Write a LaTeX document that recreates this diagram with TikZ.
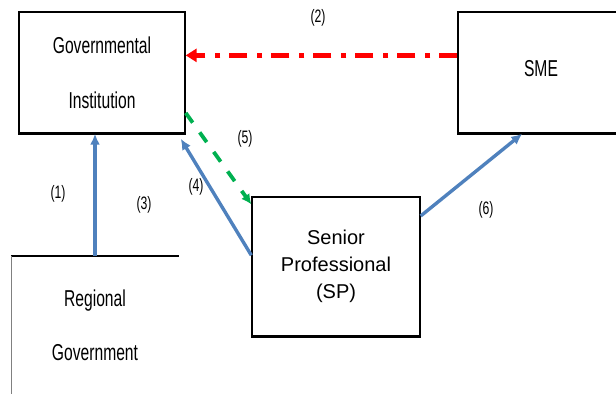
\documentclass[tikz,border=0pt]{standalone}
\usepackage{fontspec}
\setmainfont{Liberation Sans}
\newfontfamily\narrowfont[FakeStretch=0.68]{Liberation Sans}
\usetikzlibrary{arrows.meta,calc}
\definecolor{FlowBlue}{HTML}{4F81BD}
\definecolor{AlertRed}{HTML}{FF0000}
\definecolor{LinkGreen}{HTML}{00B050}

\begin{document}
\begin{tikzpicture}[x=1pt, y=-1pt,
  box/.style={draw=black, line width=1.4pt, inner sep=0pt, align=center},
  narrow/.style={font=\narrowfont\fontsize{23}{23}\selectfont},
  tag/.style={font=\narrowfont\fontsize{18}{18}\selectfont, inner sep=0pt},
  flow/.style={-{Latex[length=11pt,width=10pt]}, FlowBlue, line width=3.4pt}]
\useasboundingbox (0,0) rectangle (616,394);
\begin{scope}
\clip (0,0) rectangle (616,394);
\node[box, narrow, minimum width=166, minimum height=121] (gi) at (102,72.5) {Governmental\\[32pt]Institution};
\node[box, narrow, minimum width=166, minimum height=121] (sme) at (541,72.5) {\raisebox{9pt}{SME}};
\node[narrow, inner sep=0pt, align=center, minimum width=168, minimum height=138] (rg) at (95,325) {Regional\\[31pt]Government};
\node[box, font=\fontsize{20}{27}\selectfont, minimum width=168, minimum height=139] (sp) at (336,266.5) {Senior\\Professional\\(SP)};
% heavier lower edges
\draw[line width=2.4pt] (gi.south west) -- (gi.south east);
\draw[line width=2.4pt] (sme.south west) -- (sme.south east);
\draw[line width=2.4pt] (sp.south west) -- (sp.south east);
\draw[line width=1.4pt] (rg.north west) -- (rg.north east);
\draw[gray, line width=0.5pt] (rg.north west) -- (rg.south west);
% connectors
\draw[flow] (rg.north) -- (rg.north |- gi.south);
\draw[-{Triangle[length=11pt,width=13pt]}, AlertRed, line width=4.5pt, dash pattern=on 18pt off 9pt on 5pt off 10pt]
  ($(sme.north west)!0.36!(sme.south west)$) -- ($(gi.north east)!0.36!(gi.south east)$);
\draw[flow] ($(sp.north west)!0.42!(sp.south west)$) -- ($(gi.south east)+(-5,5)$);
\draw[-{Latex[length=10pt,width=10pt]}, LinkGreen, line width=3.8pt, dash pattern=on 12pt off 12pt]
  ($(gi.north east)!0.83!(gi.south east)$) -- ($(sp.north west)+(0,8)$);
\draw[flow] ($(sp.north east)!0.14!(sp.south east)$) -- ($(sme.south west)+(65,0)$);
% labels
\node[tag] (l1) at (58,194) {(1)};
\node[tag] (l2) at (318,18) {(2)};
\node[tag] (l3) at (144,205) {(3)};
\node[tag] (l4) at (196,187) {(4)};
\node[tag] (l5) at (245,139) {(5)};
\node[tag] (l6) at (486,210) {(6)};
\end{scope}
\end{tikzpicture}
\end{document}
